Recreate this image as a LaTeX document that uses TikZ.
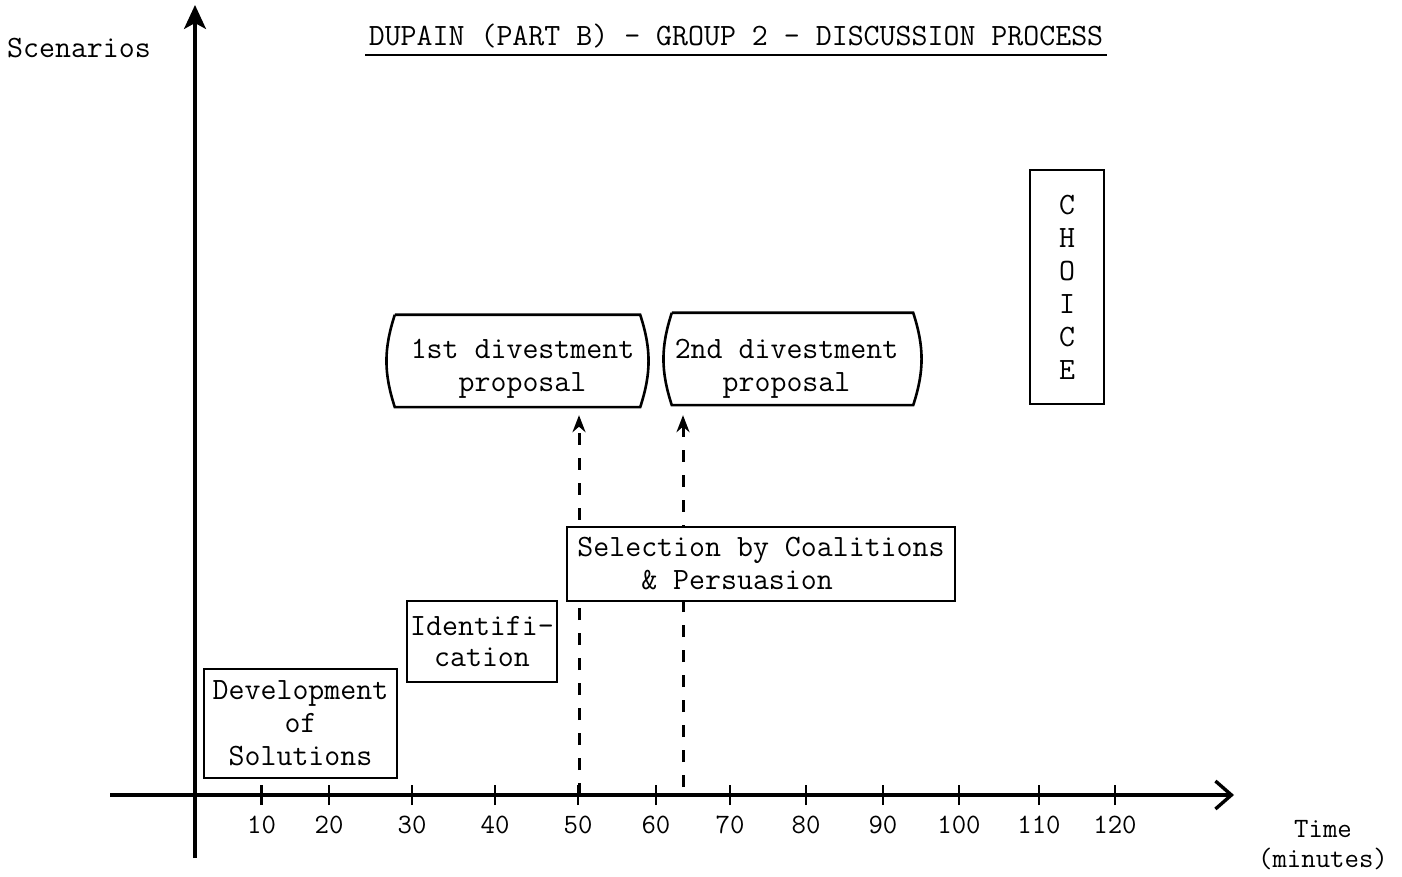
\documentclass[tikz,border=0pt]{standalone}
\usepackage{fontspec}
\usepackage{tikz}
\usetikzlibrary{arrows.meta, positioning, calc}
\newcommand{\twfont}{\ttfamily\fontsize{31}{33}\selectfont}
\newcommand{\numfont}{\ttfamily\fontsize{28}{30}\selectfont}
\tikzstyle{axis} = [line width=3.2pt]
\tikzstyle{boxline} = [line width=2.6pt]
\tikzstyle{stage} = [rectangle, draw=black, line width=2.6pt, fill=white, align=center, inner sep=0pt, font=\twfont]
\tikzstyle{proposal} = [rectangle, inner sep=0pt, minimum height=92pt]
\tikzstyle{proposaltext} = [align=center, inner sep=0pt, font=\twfont]
\tikzstyle{dasharrow} = [line width=3pt, dash pattern=on 12pt off 13pt, -{Stealth[length=17pt, width=13pt]}]
\tikzstyle{ticklabel} = [font=\numfont, inner sep=0pt]
\newcommand{\bulgebox}[1]{\draw[boxline] (#1.north west) -- (#1.north east) to[bend left=18] (#1.south east) -- (#1.south west) to[bend left=18] (#1.north west);}

\begin{document}
\begin{tikzpicture}[x=1pt, y=1pt]
    \useasboundingbox (0,0) rectangle (1402,876);

    % axes
    \coordinate (origin) at (195,81);
    \coordinate (xbeg) at (110,81);
    \coordinate (xend) at (1234,81);
    \coordinate (ybeg) at (195,18);
    \coordinate (yend) at (195,871);
    \draw[axis, -{Straight Barb[length=16pt, width=28pt, line width=3.4pt]}] (xbeg) -- (xend);
    \draw[axis, -{Stealth[length=24pt, width=22pt, inset=6pt]}] (ybeg) -- (yend);
    \foreach \tx/\lab in {261.5/10, 329/20, 412/30, 495/40, 578/50, 656/60, 730/70, 806/80, 883/90, 959/100, 1039/110, 1115/120} {
        \draw[line width=2.6pt] (\tx,71) -- (\tx,91);
        \node (t\lab) [ticklabel] at (\tx,51) {\lab};
    }
    \node (ylabel) [font=\twfont] at (79,828) {Scenarios};
    \node (xlabel) [font=\numfont, align=center] at (1323,31) {Time\\(minutes)};

    % title
    \node (title) [font=\twfont] at (736,840) {DUPAIN (PART B) - GROUP 2 - DISCUSSION PROCESS};
    \draw[line width=2pt] ([yshift=-10pt]title.base west) -- ([yshift=-10pt]title.base east);

    % divestment proposals
    \node (p1) [proposal, minimum width=245pt] at (517.5,515) {};
    \node (p1text) [proposaltext] at ([xshift=5pt, yshift=-8pt]p1.center) {1st divestment\\proposal};
    \node (p2) [proposal, minimum width=241pt] at (792.5,517) {};
    \node (p2text) [proposaltext] at ([xshift=-6pt, yshift=-10pt]p2.center) {2nd divestment\\proposal};
    \bulgebox{p1}
    \bulgebox{p2}

    % choice
    \node (choice) [stage, minimum width=74pt, minimum height=234pt] at (1067,589) {C\\H\\O\\I\\C\\E};

    % dashed arrows
    \coordinate (d1) at (579,81);
    \coordinate (d2) at (683,89);
    \draw[dasharrow, shorten >=8pt] (d1) -- (d1 |- p1.south);
    \draw[dasharrow, shorten >=10pt] (d2) -- (d2 |- p2.south);

    % stages
    \node (dev) [stage, minimum width=193pt, minimum height=109pt] at (300.5,152.5) {Development\\of\\Solutions};
    \node (ident) [stage, minimum width=150pt, minimum height=81pt] at (482,234.5) {Identifi-\\[-2pt]cation};
    \node (sel) [stage, minimum width=388pt, minimum height=74pt, align=left] at (761,312) {Selection by Coalitions\\\phantom{0000}\& Persuasion};
\end{tikzpicture}
\end{document}
